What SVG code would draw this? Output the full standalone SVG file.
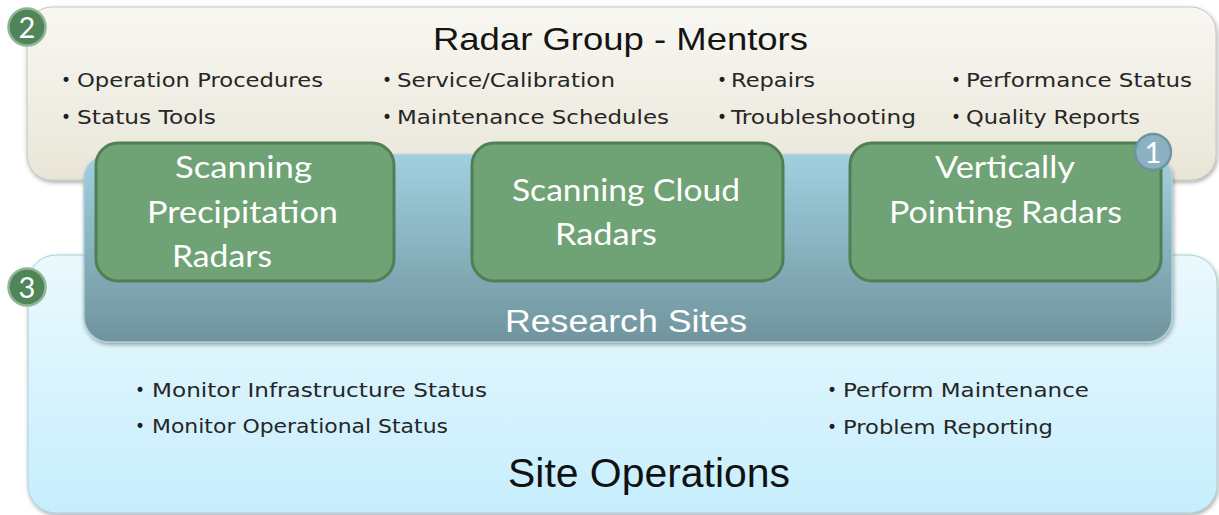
<svg xmlns="http://www.w3.org/2000/svg" width="1219" height="515" viewBox="0 0 1219 515">
  <defs>
    <linearGradient id="gMentor" x1="0" y1="0" x2="0" y2="1">
      <stop offset="0" stop-color="#f8f7f2"/>
      <stop offset="1" stop-color="#e9e6d8"/>
    </linearGradient>
    <linearGradient id="gSites" x1="0" y1="0" x2="0" y2="1">
      <stop offset="0" stop-color="#a0d0e0"/>
      <stop offset="1" stop-color="#70949d"/>
    </linearGradient>
    <linearGradient id="gOps" x1="0" y1="0" x2="0" y2="1">
      <stop offset="0" stop-color="#ebf9fd"/>
      <stop offset="1" stop-color="#c6eefd"/>
    </linearGradient>
    <filter id="shadow" x="-5%" y="-10%" width="110%" height="125%">
      <feDropShadow dx="1" dy="2" stdDeviation="2" flood-color="#000" flood-opacity="0.35"/>
    </filter>
    <style>
      .item { font-family: "DejaVu Sans", Verdana, sans-serif; font-size: 19px; fill: #262626; }
      .dot { font-family: "DejaVu Sans", Verdana, sans-serif; font-size: 17px; fill: #1e1e1e; text-anchor: middle; }
      .radar { fill: #6fa274; stroke: #527e55; stroke-width: 3; }
      .radarText { font-family: Lato, "Open Sans", sans-serif; font-size: 31px; fill: #ffffff; }
      .heading { font-family: "Liberation Sans", Arial, sans-serif; }
      .badgeGreen { fill: #4f8559; stroke: #8fb595; stroke-width: 2.5; }
      .badgeBlue { fill: #8cb2c2; stroke: #6f93a1; stroke-width: 2.5; }
      .badgeText { font-family: Lato, "Open Sans", sans-serif; font-size: 29px; fill: #ffffff; text-anchor: middle; }
    </style>
  </defs>

  <!-- Site Operations (lowest layer) -->
  <g id="site-operations">
    <rect x="28" y="255" width="1189" height="258" rx="28" fill="url(#gOps)" stroke="#a9cfdb" stroke-width="1" filter="url(#shadow)"/>
    <text class="dot" x="140" y="396">•</text>
    <text class="item" x="152" y="397" textLength="335" lengthAdjust="spacingAndGlyphs">Monitor Infrastructure Status</text>
    <text class="dot" x="140" y="432">•</text>
    <text class="item" x="152" y="433" textLength="296" lengthAdjust="spacingAndGlyphs">Monitor Operational Status</text>
    <text class="dot" x="832" y="396">•</text>
    <text class="item" x="843" y="397" textLength="246" lengthAdjust="spacingAndGlyphs">Perform Maintenance</text>
    <text class="dot" x="832" y="433">•</text>
    <text class="item" x="843" y="434" textLength="210" lengthAdjust="spacingAndGlyphs">Problem Reporting</text>
    <text class="heading" x="508" y="487" font-size="40" fill="#111" textLength="282" lengthAdjust="spacingAndGlyphs">Site Operations</text>
  </g>

  <!-- Radar Group - Mentors -->
  <g id="radar-group-mentors">
    <rect x="27" y="7" width="1189" height="173" rx="25" fill="url(#gMentor)" stroke="#c9c6b8" stroke-width="1" filter="url(#shadow)"/>
    <text class="heading" x="433" y="50" font-size="32" fill="#141414" textLength="375" lengthAdjust="spacingAndGlyphs">Radar Group - Mentors</text>
    <text class="dot" x="66" y="86">•</text>
    <text class="item" x="77" y="87" textLength="246" lengthAdjust="spacingAndGlyphs">Operation Procedures</text>
    <text class="dot" x="66" y="123">•</text>
    <text class="item" x="77" y="124" textLength="139" lengthAdjust="spacingAndGlyphs">Status Tools</text>
    <text class="dot" x="387" y="86">•</text>
    <text class="item" x="397" y="87" textLength="218" lengthAdjust="spacingAndGlyphs">Service/Calibration</text>
    <text class="dot" x="387" y="123">•</text>
    <text class="item" x="397" y="124" textLength="272" lengthAdjust="spacingAndGlyphs">Maintenance Schedules</text>
    <text class="dot" x="722" y="86">•</text>
    <text class="item" x="731" y="87" textLength="84" lengthAdjust="spacingAndGlyphs">Repairs</text>
    <text class="dot" x="722" y="123">•</text>
    <text class="item" x="731" y="124" textLength="185" lengthAdjust="spacingAndGlyphs">Troubleshooting</text>
    <text class="dot" x="956" y="86">•</text>
    <text class="item" x="966" y="87" textLength="226" lengthAdjust="spacingAndGlyphs">Performance Status</text>
    <text class="dot" x="956" y="123">•</text>
    <text class="item" x="966" y="124" textLength="174" lengthAdjust="spacingAndGlyphs">Quality Reports</text>
  </g>

  <!-- Research Sites container -->
  <g id="research-sites">
    <rect x="84" y="155" width="1088" height="187" rx="25" fill="url(#gSites)" stroke="#a8cfdc" stroke-width="1.5" filter="url(#shadow)"/>
    <text class="heading" x="505" y="332" font-size="31" fill="#ffffff" textLength="242" lengthAdjust="spacingAndGlyphs">Research Sites</text>
  </g>

  <!-- Radar types -->
  <g id="scanning-precipitation-radars">
    <rect class="radar" x="96" y="143" width="298" height="138" rx="22"/>
    <text class="radarText" x="175" y="178" textLength="137" lengthAdjust="spacingAndGlyphs">Scanning</text>
    <text class="radarText" x="147" y="223" textLength="191" lengthAdjust="spacingAndGlyphs">Precipitation</text>
    <text class="radarText" x="172" y="267" textLength="100" lengthAdjust="spacingAndGlyphs">Radars</text>
  </g>
  <g id="scanning-cloud-radars">
    <rect class="radar" x="472" y="143" width="311" height="138" rx="22"/>
    <text class="radarText" x="512" y="201" textLength="228" lengthAdjust="spacingAndGlyphs">Scanning Cloud</text>
    <text class="radarText" x="555" y="245" textLength="102" lengthAdjust="spacingAndGlyphs">Radars</text>
  </g>
  <g id="vertically-pointing-radars">
    <rect class="radar" x="850" y="143" width="311" height="138" rx="22"/>
    <text class="radarText" x="935" y="178" textLength="140" lengthAdjust="spacingAndGlyphs">Vertically</text>
    <text class="radarText" x="889" y="223" textLength="233" lengthAdjust="spacingAndGlyphs">Pointing Radars</text>
  </g>

  <!-- Numbered badges -->
  <g id="badge-2">
    <circle class="badgeGreen" cx="27" cy="27" r="18.5"/>
    <text class="badgeText" x="27" y="37.5">2</text>
  </g>
  <g id="badge-3">
    <circle class="badgeGreen" cx="27" cy="287" r="18.5"/>
    <text class="badgeText" x="27" y="297.5">3</text>
  </g>
  <g id="badge-1">
    <circle class="badgeBlue" cx="1153" cy="152" r="18"/>
    <text class="badgeText" x="1153" y="162.5">1</text>
  </g>

  <!-- No connectors in this diagram -->
  <g id="connectors"/>
</svg>
